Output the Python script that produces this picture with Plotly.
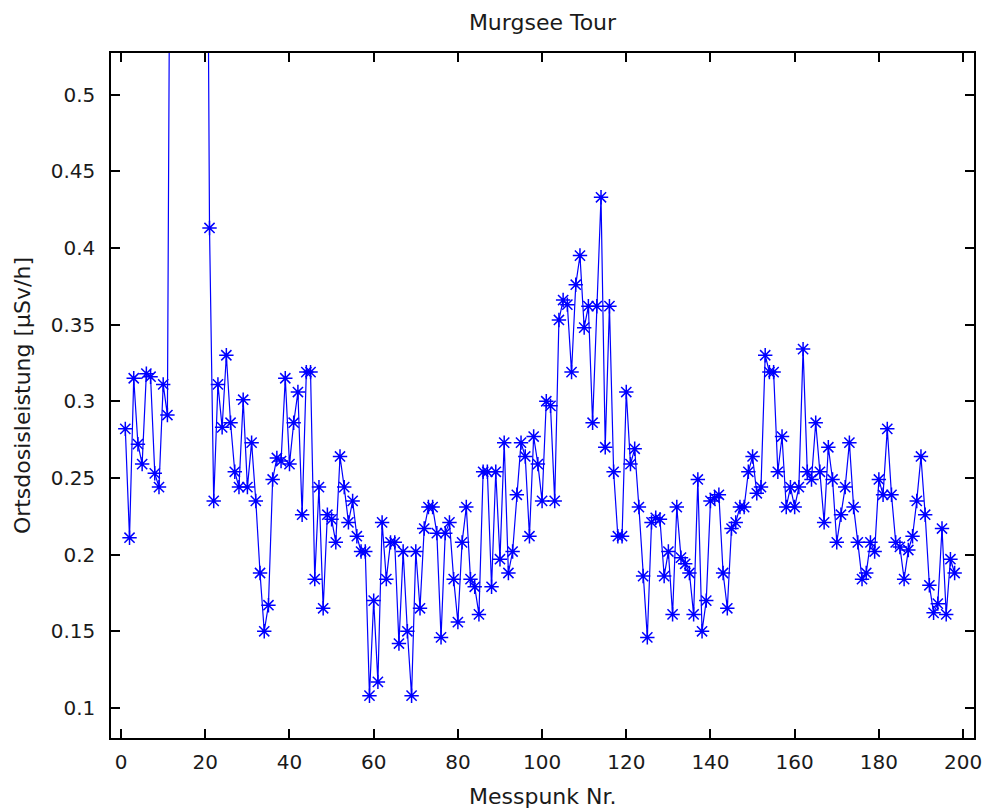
import plotly.graph_objects as go

messpunkt = list(range(1, 199))

dose_001_020 = [0.282, 0.211, 0.315, 0.272, 0.259, 0.318, 0.316, 0.253, 0.244, 0.311,
                0.291, 0.85, 1.3, 1.6, 1.4, 1.8, 1.5, 1.2, 1.1, 0.9]
dose_021_040 = [0.413, 0.235, 0.311, 0.283, 0.330, 0.286, 0.254, 0.244, 0.301, 0.244,
                0.273, 0.235, 0.188, 0.150, 0.167, 0.249, 0.263, 0.261, 0.315, 0.259]
dose_041_060 = [0.286, 0.306, 0.226, 0.319, 0.319, 0.184, 0.244, 0.165, 0.226, 0.223,
                0.208, 0.264, 0.244, 0.221, 0.235, 0.212, 0.202, 0.202, 0.108, 0.170]
dose_061_080 = [0.117, 0.221, 0.184, 0.208, 0.208, 0.142, 0.202, 0.150, 0.108, 0.202,
                0.165, 0.217, 0.231, 0.231, 0.214, 0.146, 0.214, 0.221, 0.184, 0.156]
dose_081_100 = [0.208, 0.231, 0.184, 0.179, 0.161, 0.254, 0.254, 0.179, 0.254, 0.197,
                0.273, 0.188, 0.202, 0.239, 0.273, 0.264, 0.212, 0.277, 0.259, 0.235]
dose_101_120 = [0.300, 0.297, 0.235, 0.353, 0.366, 0.363, 0.319, 0.376, 0.395, 0.348,
                0.362, 0.286, 0.362, 0.433, 0.270, 0.362, 0.254, 0.212, 0.212, 0.306]
dose_121_140 = [0.259, 0.269, 0.231, 0.186, 0.146, 0.221, 0.224, 0.223, 0.186, 0.202,
                0.161, 0.231, 0.198, 0.194, 0.188, 0.161, 0.249, 0.150, 0.170, 0.235]
dose_141_160 = [0.237, 0.239, 0.188, 0.165, 0.217, 0.221, 0.231, 0.231, 0.254, 0.264,
                0.240, 0.244, 0.330, 0.319, 0.319, 0.254, 0.277, 0.231, 0.244, 0.231]
dose_161_180 = [0.244, 0.334, 0.254, 0.249, 0.286, 0.254, 0.221, 0.270, 0.249, 0.208,
                0.226, 0.244, 0.273, 0.231, 0.208, 0.184, 0.188, 0.208, 0.202, 0.249]
dose_181_198 = [0.239, 0.282, 0.239, 0.208, 0.205, 0.184, 0.203, 0.212, 0.235, 0.264,
                0.226, 0.180, 0.162, 0.168, 0.217, 0.161, 0.197, 0.188]

dose = (dose_001_020 + dose_021_040 + dose_041_060 + dose_061_080 + dose_081_100 +
        dose_101_120 + dose_121_140 + dose_141_160 + dose_161_180 + dose_181_198)

x_ticks = [0, 20, 40, 60, 80, 100, 120, 140, 160, 180, 200]
y_ticks = [0.1, 0.15, 0.2, 0.25, 0.3, 0.35, 0.4, 0.45, 0.5]
y_tick_text = ["0.1", "0.15", "0.2", "0.25", "0.3", "0.35", "0.4", "0.45", "0.5"]

FONT = "DejaVu Sans, Verdana, sans-serif"
BLUE = "#0000FF"
TXT = "#1a1a1a"

fig = go.Figure()
fig.add_trace(go.Scatter(
    x=messpunkt, y=dose, mode="lines+markers",
    line=dict(color=BLUE, width=1.2),
    marker=dict(symbol="asterisk-open", size=12, color=BLUE,
                line=dict(color=BLUE, width=1.5)),
    showlegend=False,
))

axis_common = dict(
    showline=True, linecolor="#000000", linewidth=1.5, mirror="ticks",
    ticks="inside", ticklen=9, tickcolor="#000000", tickwidth=1.5,
    showgrid=False, zeroline=False,
    tickfont=dict(family=FONT, size=20, color=TXT),
)

fig.update_xaxes(range=[-2.4, 202.6], tickvals=x_ticks, ticklabelstandoff=5, **axis_common)
fig.update_yaxes(range=[0.0804, 0.5271], tickvals=y_ticks, ticktext=y_tick_text,
                 ticklabelstandoff=10, **axis_common)

fig.update_layout(
    width=994, height=810,
    margin=dict(l=111, r=14, t=53, b=72),
    paper_bgcolor="#FFFFFF", plot_bgcolor="#FFFFFF",
    title=dict(text="Murgsee Tour", x=0.5, xref="paper", y=1 - 22 / 810,
               yref="container", xanchor="center", yanchor="middle",
               font=dict(family=FONT, size=22, color=TXT)),
    annotations=[
        dict(text="Messpunk Nr.", xref="paper", yref="paper", x=0.5, y=-58 / 685,
             xanchor="center", yanchor="middle", showarrow=False,
             font=dict(family=FONT, size=22, color=TXT)),
        dict(text="Ortsdosisleistung [µSv/h]", xref="paper", yref="paper",
             x=(22 - 111) / 869, y=0.5, xanchor="center", yanchor="middle",
             textangle=-90, showarrow=False,
             font=dict(family=FONT, size=22, color=TXT)),
    ],
)

fig.write_html("out.html")
